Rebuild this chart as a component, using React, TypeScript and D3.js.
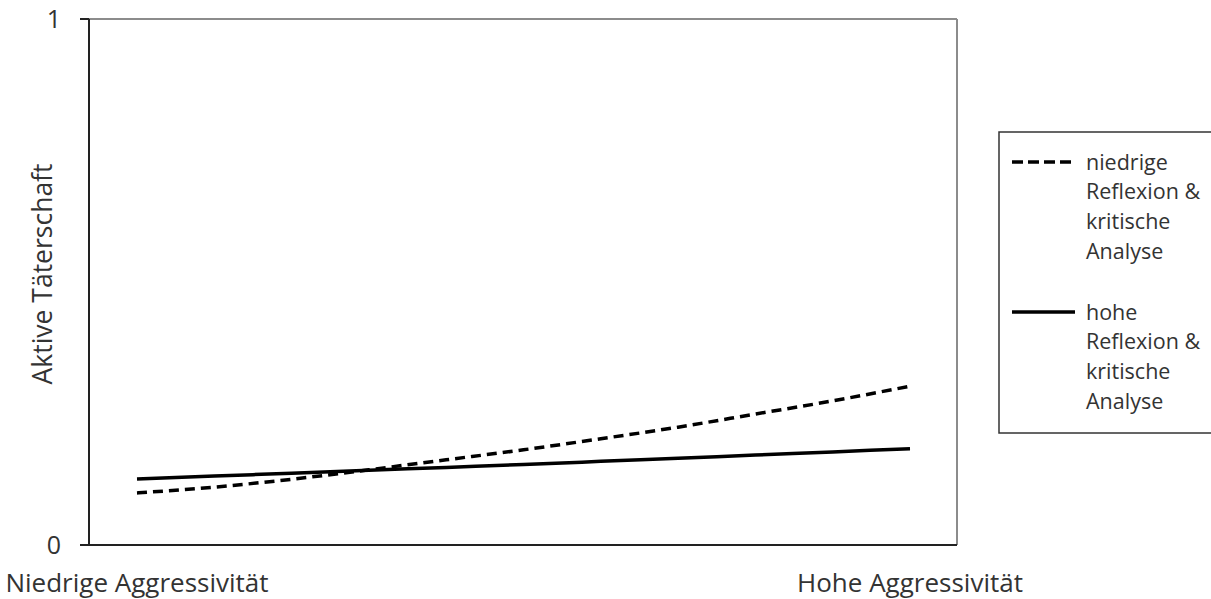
import React, { useEffect, useRef } from "react";
import * as d3 from "d3";

const categories = ["Niedrige Aggressivität", "Hohe Aggressivität"];
const steps = [0, 0.1, 0.2, 0.3, 0.4, 0.5, 0.6, 0.7, 0.8, 0.9, 1];
const lowReflexion = [0.099, 0.11, 0.125, 0.143, 0.162, 0.181, 0.202, 0.224, 0.249, 0.274, 0.302];
const highReflexion = [0.1255, 0.131, 0.1365, 0.142, 0.1475, 0.153, 0.159, 0.165, 0.171, 0.177, 0.183];
const yTicks = [0, 1];
const yTitle = "Aktive Täterschaft";
const legendLabels = [
  ["niedrige", "Reflexion &", "kritische", "Analyse"],
  ["hohe", "Reflexion &", "kritische", "Analyse"],
];

const W = 1211;
const H = 599;
const FONT = "'Open Sans', 'Noto Sans', sans-serif";

export default function App() {
  const ref = useRef<SVGSVGElement>(null);

  useEffect(() => {
    const svg = d3.select(ref.current);
    svg.selectAll("*").remove();

    const box = { left: 89, right: 957, top: 19, bottom: 545 };
    const x = d3.scaleLinear().domain([0, 1]).range([137, 910]);
    const y = d3.scaleLinear().domain([0, 1]).range([box.bottom, box.top]);

    svg.append("line").attr("x1", box.left).attr("x2", box.right).attr("y1", box.top).attr("y2", box.top)
      .attr("stroke", "#8c8c8c").attr("stroke-width", 2);
    svg.append("line").attr("x1", box.right).attr("x2", box.right).attr("y1", box.top).attr("y2", box.bottom)
      .attr("stroke", "#8c8c8c").attr("stroke-width", 2);

    svg.append("line").attr("x1", box.left).attr("x2", box.left).attr("y1", box.top).attr("y2", box.bottom)
      .attr("stroke", "#222").attr("stroke-width", 2);
    svg.append("line").attr("x1", box.left).attr("x2", box.right).attr("y1", box.bottom).attr("y2", box.bottom)
      .attr("stroke", "#222").attr("stroke-width", 2);

    const tg = svg.append("g");
    yTicks.forEach((t) => {
      tg.append("line").attr("x1", 80).attr("x2", box.left).attr("y1", y(t)).attr("y2", y(t))
        .attr("stroke", "#222").attr("stroke-width", 2);
      tg.append("text").attr("x", 61).attr("y", y(t)).attr("dy", "0.36em")
        .attr("text-anchor", "end").attr("font-family", FONT).attr("font-size", 25)
        .attr("fill", "#333").text(String(t));
    });

    svg.append("text")
      .attr("transform", `translate(52,274) rotate(-90)`)
      .attr("text-anchor", "middle").attr("font-family", FONT).attr("font-size", 26.5)
      .attr("fill", "#333").text(yTitle);

    categories.forEach((c, i) => {
      svg.append("text").attr("x", x(i)).attr("y", 592).attr("text-anchor", "middle")
        .attr("font-family", FONT).attr("font-size", 26).attr("fill", "#333").text(c);
    });

    const line = d3.line<number>().x((_, i) => x(steps[i])).y((d) => y(d)).curve(d3.curveMonotoneX);

    svg.append("path").attr("d", line(highReflexion)).attr("fill", "none")
      .attr("stroke", "#000").attr("stroke-width", 3.5);
    svg.append("path").attr("d", line(lowReflexion)).attr("fill", "none")
      .attr("stroke", "#000").attr("stroke-width", 3.5).attr("stroke-dasharray", "10,6");

    const lg = svg.append("g");
    lg.append("rect").attr("x", 999).attr("y", 132).attr("width", 230).attr("height", 301)
      .attr("fill", "#fff").attr("stroke", "#333").attr("stroke-width", 1.5);
    const entryY = [162, 312];
    legendLabels.forEach((lines, k) => {
      lg.append("line").attr("x1", 1012).attr("x2", 1075).attr("y1", entryY[k]).attr("y2", entryY[k])
        .attr("stroke", "#000").attr("stroke-width", 3.5)
        .attr("stroke-dasharray", k === 0 ? "11,5" : null);
      lines.forEach((t, j) => {
        lg.append("text").attr("x", 1086).attr("y", entryY[k] + j * 29.7).attr("dy", "0.35em")
          .attr("font-family", FONT).attr("font-size", 21.5).attr("fill", "#333").text(t);
      });
    });
  }, []);

  return (
    <svg ref={ref} width={W} height={H}
      style={{ position: "absolute", left: 0, top: 0, background: "#fff" }} />
  );
}
